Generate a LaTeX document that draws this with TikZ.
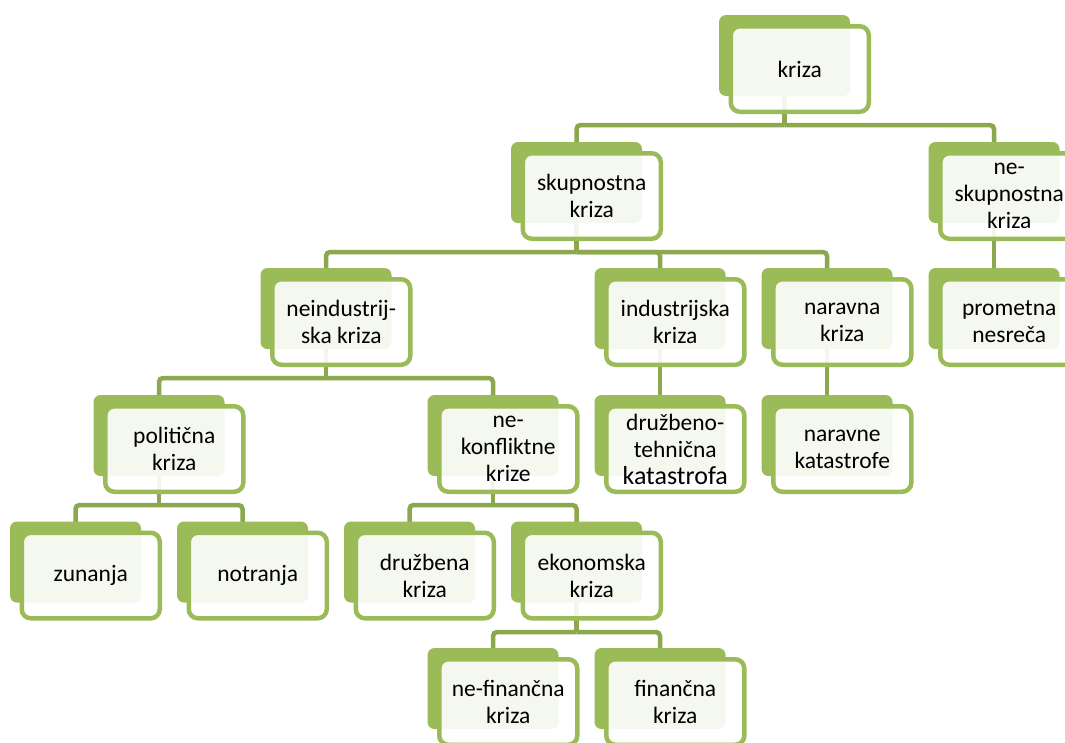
\documentclass[tikz,border=0pt]{standalone}
\usepackage{fontspec}
\setmainfont{Carlito}
\usetikzlibrary{backgrounds}
\definecolor{grn}{HTML}{9BBB59}
\definecolor{linkc}{HTML}{8CA84F}
\tikzset{
  backbox/.style={fill=grn, draw=none, rounded corners=7pt, minimum width=131pt, minimum height=81pt, inner sep=0pt},
  frontbox/.style={draw=grn, line width=4.5pt, fill=white, fill opacity=0.9, text opacity=1, rounded corners=9pt,
    minimum width=138pt, minimum height=85.5pt, inner sep=0pt, align=center,
    font=\fontsize{23.5}{27}\selectfont, text=black},
  link/.style={draw=linkc, line width=4.5pt, rounded corners=4pt},
}
\newcommand{\kbox}[4]{%
  \node[backbox] (#1) at (#2,#3) {};
  \node[frontbox, xshift=15.25pt, yshift=-13.5pt] (#1-t) at (#2,#3) {#4};
}
\begin{document}
\begin{tikzpicture}[x=1pt,y=-1pt]
\useasboundingbox (0,0) rectangle (1065,742);
\clip (0,0) rectangle (1065,742);

\kbox{kriza}{784.5}{55.5}{kriza}
\kbox{skup}{576.5}{182.5}{skupnostna\\kriza}
\kbox{neskup}{994}{182.5}{ne-\\skupnostna\\kriza}
\kbox{neind}{326}{308.5}{neindustrij-\\ska kriza}
\kbox{indus}{660}{308.5}{industrijska\\kriza}
\kbox{narav}{827}{308.5}{naravna\\kriza}
\kbox{promet}{994}{308.5}{prometna\\nesreča}
\kbox{polit}{159}{435.5}{politična\\kriza}
\kbox{nekonf}{493}{435.5}{ne-\\konfliktne\\krize}
\kbox{drtech}{660}{435.5}{družbeno-\\tehnična\\{\fontsize{26}{28}\selectfont katastrofa}}
\kbox{naravkat}{827}{435.5}{naravne\\katastrofe}
\kbox{zun}{75.5}{562}{zunanja}
\kbox{notr}{242.5}{562}{notranja}
\kbox{druz}{409.5}{562}{družbena\\kriza}
\kbox{ekon}{576.5}{562}{ekonomska\\kriza}
\kbox{nefin}{493}{688.5}{ne-finančna\\kriza}
\kbox{fin}{660}{688.5}{finančna\\kriza}

\coordinate (bar1) at (0,125);
\coordinate (bar2) at (0,252);
\coordinate (bar3) at (0,378);
\coordinate (bar4) at (0,505);
\coordinate (bar5) at (0,632);

\begin{scope}[on background layer]
  \fill[white] (0,0) rectangle (1065,742);
  % kriza
  \draw[link] (kriza.center) -- (kriza.center |- bar1);
  \draw[link] (kriza.center |- bar1) -| (skup.center);
  \draw[link] (kriza.center |- bar1) -| (neskup.center);
  % skupnostna
  \draw[link] (skup.center) -- (skup.center |- bar2);
  \draw[link] (skup.center |- bar2) -| (neind.center);
  \draw[link] (skup.center |- bar2) -| (indus.center);
  \draw[link] (skup.center |- bar2) -| (narav.center);
  % single children
  \draw[link] (neskup.center) -- (promet.center);
  \draw[link] (indus.center) -- (drtech.center);
  \draw[link] (narav.center) -- (naravkat.center);
  % neindustrijska
  \draw[link] (neind.center) -- (neind.center |- bar3);
  \draw[link] (neind.center |- bar3) -| (polit.center);
  \draw[link] (neind.center |- bar3) -| (nekonf.center);
  % politicna
  \draw[link] (polit.center) -- (polit.center |- bar4);
  \draw[link] (polit.center |- bar4) -| (zun.center);
  \draw[link] (polit.center |- bar4) -| (notr.center);
  % ne-konfliktne
  \draw[link] (nekonf.center) -- (nekonf.center |- bar4);
  \draw[link] (nekonf.center |- bar4) -| (druz.center);
  \draw[link] (nekonf.center |- bar4) -| (ekon.center);
  % ekonomska
  \draw[link] (ekon.center) -- (ekon.center |- bar5);
  \draw[link] (ekon.center |- bar5) -| (nefin.center);
  \draw[link] (ekon.center |- bar5) -| (fin.center);
\end{scope}
\end{tikzpicture}
\end{document}
